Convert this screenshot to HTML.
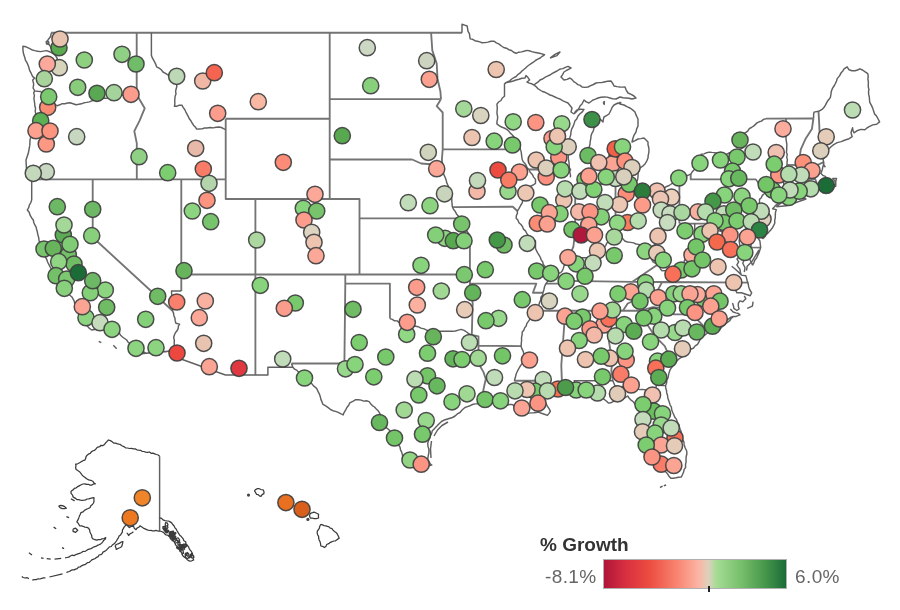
<!DOCTYPE html>
<html><head><meta charset="utf-8"><title>% Growth map</title>
<style>
html,body{margin:0;padding:0;background:#fff;}
body{width:900px;height:610px;overflow:hidden;position:relative;font-family:"Liberation Sans","DejaVu Sans",sans-serif;}
svg{position:absolute;left:0;top:0;filter:blur(0.45px);}
.legend-title{position:absolute;left:540px;top:534px;font-size:19px;line-height:22px;font-weight:bold;color:#333;white-space:nowrap;}
.lbl{position:absolute;top:566px;font-size:19px;line-height:22px;color:#666;letter-spacing:0.4px;white-space:nowrap;}
.bar{position:absolute;left:603px;top:559px;width:184px;height:30px;box-sizing:border-box;border:1px solid #b0b0b0;
background:linear-gradient(to right,#b0143a 0%,#d83040 12%,#ec4c40 25%,#f88470 40%,#fcb4a4 52%,#dcd0bc 57.4%,#a4dc94 62%,#78c06c 75%,#48984c 88%,#1c6c38 100%);}
.tick{position:absolute;left:708px;top:586px;width:2px;height:6px;background:#222;}
</style></head><body>
<svg width="900" height="610" viewBox="0 0 900 610">
<path d="M51.1,32.7 L462.0,32.7 M136.7,32.7 L136.7,88.9 L138.5,97.8 M30.3,179.4 L225.7,179.4 L225.7,199.0 L359.5,199.0 L359.5,218.3 L459.8,218.3 M92.7,179.4 L92.7,237.3 L172.5,310.7 M181.3,179.4 L181.3,290.9 M181.3,274.5 L469.9,274.5 M225.7,118.7 L225.7,179.4 M225.7,118.7 L329.7,118.7 M329.7,32.7 L329.7,199.0 M329.7,99.1 L441.0,99.1 M329.7,159.5 L412.2,159.5 M255.4,199.0 L255.4,375.0 M359.5,218.3 L359.5,274.5 M345.3,274.5 L345.3,283.6 L344.4,363.5 L291.5,363.5 M345.3,283.6 L389.9,283.6 L389.9,318.6 M469.9,235.4 L469.9,283.6 L472.7,303.5 L471.8,334.9 L478.5,336.4 L478.5,363.5 M469.9,283.6 L536.3,283.6 L532.9,292.7 L543.0,292.7 M478.5,345.7 L521.1,346.1 M452.8,207.1 L512.8,206.7 L517.4,211.0 M442.7,149.4 L520.4,149.4 M442.7,149.4 L442.7,112.5 L436.7,106.2 L441.0,99.1 M529.0,169.5 L571.2,169.5 M575.2,184.1 L575.2,230.6 L573.4,246.7 L567.8,259.7 M580.1,184.1 L615.5,184.1 L615.5,235.4 M615.5,185.3 L635.8,184.7 M679.4,179.4 L679.4,223.6 M679.4,223.6 L749.7,223.6 M690.7,174.1 L690.7,179.4 L756.1,179.4 M545.9,283.6 L567.5,283.6 L567.5,280.9 L632.4,281.8 L662.1,282.0 L748.5,282.7 M534.1,310.7 L641.0,310.7 M565.3,310.7 L561.3,365.2 L562.3,393.4 M603.9,310.7 L610.1,348.4 L612.8,358.3 L611.3,370.4 L612.8,380.7 M514.3,380.7 L542.5,380.7 L540.7,386.6 L545.5,394.6 M138.5,97.8 L144.7,108.3 L139.5,120.8 L134.3,131.1 L136.8,143.4 L136.8,179.4 M478.5,363.5 L483.5,372.1 L485.8,379.0 L483.5,389.2 L482.8,396.0 L481.3,402.8 M412.2,159.5 L421.1,163.5 L434.5,164.5 L442.7,169.5 L441.9,159.5 L442.7,149.4 M441.0,99.1 L440.4,91.5 L437.5,78.7 L436.7,63.6 L432.3,50.4 L431.1,32.7 M648.5,248.5 L648.5,252.3 L652.9,261.6 L657.8,264.5 L632.4,281.8 M765.9,192.0 L777.8,199.0 M749.7,223.6 L751.0,247.4 L760.7,247.6 M641.0,310.7 L644.0,319.6 L654.4,335.6 L664.8,346.1 L669.3,356.5 L674.2,362.8 M641.0,310.7 L652.9,307.1 L671.7,308.9 L673.7,314.3 L692.0,314.3 L708.8,331.2 M662.1,282.0 L657.4,290.9 L648.5,292.7 L639.6,298.1 L627.7,303.5 L622.9,310.7 M765.9,118.7 L813.4,118.5 M787.1,164.9 L816.4,165.5 L823.5,162.1 M783.7,178.6 L815.2,179.0 L819.1,189.2 M809.0,179.0 L808.1,192.7 M813.4,118.5 L811.9,129.1 L805.3,139.3 L800.8,149.4 L799.3,159.5 L799.2,164.9 M818.5,111.3 L819.1,121.9 L819.5,130.8 L820.7,143.6 L822.5,159.3" fill="none" stroke="#747474" stroke-width="1.85" stroke-linejoin="round"/>
<path d="M135.5,354.3 L171.2,351.0 L169.8,355.0 L225.4,375.0 M225.4,375.0 L267.9,375.0 L267.9,367.3 L292.9,367.3 M292.9,367.3 L291.5,363.5 M432.3,464.8 L428.9,465.8 L425.6,466.6 L423.0,465.4 L420.5,464.2 L417.9,463.3 L415.2,462.5 L412.7,461.8 L410.3,460.9 L408.0,459.7 L405.8,458.3 L403.3,457.6 L402.4,455.0 L401.8,452.3 L400.5,449.9 L400.0,447.2 L398.7,444.8 L398.6,441.9 L397.3,439.5 L396.0,437.3 L393.7,436.0 L392.3,433.8 L390.6,431.9 L389.0,429.8 L387.0,428.2 L385.5,426.2 L384.4,424.0 L383.3,421.9 L382.6,419.5 L381.4,417.4 L380.6,415.0 L379.5,412.8 L378.1,410.7 L376.3,408.9 L374.5,407.0 L372.3,405.6 L370.6,403.7 L369.1,401.6 L366.5,400.8 L363.7,401.1 L361.1,400.1 L358.5,399.8 L355.7,399.7 L352.8,401.3 L349.8,402.8 L348.7,405.3 L346.9,407.5 L345.7,409.9 L344.2,412.3 L343.1,414.9 L340.6,413.7 L338.2,412.4 L335.6,411.4 L332.9,410.7 L330.5,409.5 L328.2,407.6 L325.7,405.9 L323.0,404.4 L322.0,401.9 L320.9,399.4 L320.3,396.7 L319.4,394.1 L318.1,391.7 L317.1,389.2 L315.5,387.3 L313.5,385.9 L312.0,383.9 L310.3,382.2 L308.5,380.6 L306.7,379.0 L304.8,377.2 L302.7,375.6 L300.7,374.1 L298.7,372.4 L297.0,370.4 L294.6,369.2 L292.9,367.3 M51.4,32.9 L50.4,36.8 L48.9,38.7 L47.5,40.7 L46.5,43.7 L49.4,44.7 L51.4,48.6 L52.6,51.7 L54.4,54.5 L56.0,56.4 L57.3,58.5 L55.4,62.4 M46.1,41.1 L48.5,41.5 L48.9,43.5 L46.5,43.9 L46.1,41.1 M54.4,54.5 L51.4,52.6 L49.0,51.5 L46.5,50.6 L43.5,51.1 L40.6,51.6 L37.6,51.3 L34.7,50.6 L31.6,49.7 L28.8,48.2 L26.0,46.8 L22.9,46.3 L22.9,49.4 L23.3,52.6 L23.9,55.1 L24.8,57.5 L25.4,60.1 L26.8,62.4 L27.9,64.8 L28.8,67.3 L29.6,70.4 L31.1,73.2 L32.7,76.6 L34.7,78.1 L32.7,80.1 L33.7,84.1 L33.1,88.0 L34.7,90.9 L33.7,92.9 L34.4,95.6 L33.9,98.4 L34.3,101.0 L34.7,103.7 L34.9,106.2 L35.6,108.6 L35.2,111.1 L35.7,113.6 L35.5,116.2 L34.9,118.8 L34.7,121.5 L33.8,124.4 L32.7,127.4 L32.3,130.1 L31.6,132.7 L30.7,135.2 L30.6,137.7 L30.0,140.1 L29.9,142.6 L29.8,145.1 M29.8,145.1 L28.3,153.3 L26.0,160.0 L26.7,173.3 L31.7,179.0 L31.7,200.0 M31.7,200.0 L30.8,202.6 L29.4,205.0 L28.7,207.6 L27.3,210.0 L29.2,212.3 L30.1,215.2 L31.5,217.7 L33.3,220.0 L33.8,222.5 L34.7,224.7 L36.0,226.9 L36.6,229.3 L37.3,231.7 L37.8,234.6 L38.7,237.5 L39.0,240.5 L40.0,243.3 L41.3,245.9 L42.4,248.5 L42.7,251.5 L44.3,253.9 L45.0,256.7 L46.6,259.0 L47.5,261.7 L48.7,264.2 L50.0,266.7 L51.4,269.0 L52.2,271.5 L53.8,273.7 L54.9,276.1 L56.2,278.5 L57.1,281.0 L58.3,283.3 L60.2,285.3 L62.2,287.1 L63.9,289.2 L65.7,291.2 L67.8,292.9 L69.5,295.0 L71.7,296.7 L73.0,298.8 L74.2,301.0 L74.7,303.5 L75.9,305.7 L76.8,308.0 L78.3,310.0 L79.6,312.6 L80.0,315.5 L80.9,318.2 L82.5,320.6 L83.3,323.3 L85.7,324.7 L87.7,326.4 L89.5,328.4 L91.7,330.0 L94.6,329.5 L97.5,329.0 L100.4,328.8 L103.3,328.3 L106.2,328.9 L109.2,328.8 L112.1,329.7 L115.0,330.0 L117.0,331.6 L119.1,333.0 L120.6,335.2 L122.5,337.0 L124.6,338.5 L126.7,340.0 L128.1,342.2 L130.3,343.9 L131.9,346.1 L133.3,348.3 L136.1,349.1 L138.8,350.0 L141.4,351.3 L144.1,352.1 L146.7,353.3 L149.1,352.8 L151.6,352.6 L154.2,352.9 L156.7,352.6 L159.2,352.5 L161.7,352.1 L164.2,351.9 L166.7,351.7 M813.6,118.4 L813.6,115.2 L814.0,112.1 L818.5,111.3 L822.5,109.1 L824.1,107.3 L825.4,105.2 L827.4,101.3 L829.0,99.3 L830.4,97.3 L830.9,94.4 L831.3,91.4 L832.5,88.3 L834.3,85.5 L835.5,83.3 L836.5,81.0 L837.2,78.6 L839.5,75.9 L841.2,72.7 L842.8,70.9 L844.1,68.8 L847.1,66.8 L849.1,69.8 L851.9,70.7 L855.0,70.7 L857.5,70.0 L859.9,68.8 L862.5,70.0 L864.8,71.7 L867.8,73.7 L868.2,76.4 L867.9,79.1 L868.4,81.8 L868.3,84.5 L868.3,87.0 L868.9,89.4 L868.5,91.9 L868.7,94.4 L869.3,97.0 L869.5,99.6 L869.7,102.2 L871.3,105.1 L872.7,108.1 L873.6,111.1 L874.6,114.1 L876.4,115.8 L877.6,118.0 L879.6,121.9 L876.6,124.3 L872.7,124.9 L868.7,126.9 L866.7,128.2 L864.8,129.8 L860.9,129.4 L856.9,130.8 L854.0,132.8 L852.9,130.4 L852.6,127.8 L851.7,130.2 L851.0,132.8 L852.2,136.7 L849.1,138.7 L845.1,140.0 L841.2,141.6 L837.2,142.6 L833.7,144.6 L831.3,146.5 L828.4,149.5 L826.7,151.8 L825.4,154.4 L824.5,157.0 L823.1,159.3 L823.7,162.2 L823.9,165.2 L825.4,167.2 M823.5,162.1 L823.5,164.6 L822.8,167.0 L822.3,169.5 L820.9,173.5 L822.8,175.3 L825.3,176.4 L826.3,178.7 L826.7,181.1 L827.5,183.3 L830.2,183.9 L833.0,184.2 L835.7,184.3 L835.8,181.3 L836.5,178.4 L832.7,178.4 L835.0,181.4 L835.8,183.8 L835.7,186.3 L832.8,187.4 L829.8,187.7 L826.8,188.2 L824.2,188.7 L821.6,188.8 L819.1,189.2 L817.1,187.6 L814.9,186.3 L814.8,188.8 L814.2,191.2 L811.2,192.2 L808.1,192.7 L805.5,192.9 L802.9,193.3 L800.3,193.1 L797.8,193.8 L795.2,193.7 L792.6,194.1 L790.5,195.4 L788.1,195.9 L786.1,197.4 L783.8,198.2 L781.5,199.0 L779.7,200.9 L778.2,203.1 L776.3,204.8 M776.3,204.8 L774.5,206.8 L772.6,208.7 L776.3,209.6 L775.5,212.2 L775.3,214.9 L775.3,217.7 L774.7,220.3 L774.8,223.0 L773.6,225.7 L772.1,228.3 L770.3,230.6 L768.4,232.6 L766.4,234.4 L764.9,236.7 L762.9,238.6 L761.1,236.1 L758.7,234.1 L757.0,231.6 L755.1,229.7 L753.2,227.8 L754.5,230.6 L755.5,233.5 L756.8,236.1 L758.3,238.6 L759.9,241.0 L760.3,244.3 L760.7,247.6 L759.8,250.3 L758.9,252.9 L757.7,255.4 L756.6,258.0 L754.8,260.2 L753.8,262.8 L752.5,265.3 M759.0,250.0 L755.4,255.9 L751.7,261.8 L747.2,266.2 L746.5,270.7 M731.7,266.2 L735.4,269.2 L738.4,272.1 L741.3,275.1 L740.4,272.2 L739.9,269.2 L738.3,267.1 L736.9,264.8 L738.7,261.8 L736.9,258.9 L739.9,255.9 L738.7,252.2 M744.3,258.9 L742.8,263.3 L745.0,267.7 L744.3,272.1 M741.3,275.1 L745.8,275.8 L746.6,278.4 L747.2,281.0 L748.2,283.9 L748.7,286.9 L749.9,290.0 L751.7,292.8 L750.2,295.8 L745.8,294.3 L741.3,292.8 L736.9,292.8 L735.4,289.9 M744.3,295.8 L745.8,298.7 L742.8,301.7 L739.9,300.9 L738.4,303.1 L738.3,306.1 L739.1,309.0 L736.9,310.5 L733.9,308.3 L733.4,305.7 L732.5,303.1 M730.3,309.0 L733.2,312.0 L735.8,312.9 L738.4,313.5 L739.9,314.9 L736.2,316.4 L733.5,316.4 L731.0,317.2 L728.0,319.4 L725.6,321.4 L723.6,323.8 M753.1,301.7 L752.4,306.1 L747.2,308.3 M733.2,317.0 L731.1,318.3 L729.8,320.6 L727.7,322.1 L725.8,323.7 L724.1,325.5 L722.0,326.9 L720.4,328.9 L718.3,330.3 L715.2,331.0 L712.0,331.2 L708.8,331.2 L706.8,333.5 L704.4,335.5 L702.0,337.3 L700.2,339.5 L698.9,342.0 L697.5,344.3 L695.2,345.9 L693.3,348.2 L690.6,349.2 L688.6,351.3 L686.4,353.1 L684.3,355.0 L682.1,356.8 L679.7,358.3 L677.1,360.8 L674.2,362.8 L672.9,365.1 L671.7,367.4 L670.2,369.6 L669.3,372.1 L668.5,374.8 L668.1,377.6 L666.8,380.1 L666.6,383.0 L665.6,385.6 L665.7,388.1 L666.5,390.4 L666.7,392.9 L667.5,395.2 L667.8,397.7 L668.5,400.1 L669.4,402.5 L670.1,405.0 L671.4,407.2 L671.7,409.8 L672.6,412.2 L673.7,414.5 L674.8,417.2 L676.5,419.4 L677.4,422.2 L678.9,424.6 L679.4,427.1 L680.2,429.5 L681.2,431.9 L682.0,434.4 L682.2,437.0 L682.7,439.5 L683.9,441.8 L684.1,444.4 L685.1,447.8 L686.7,451.0 L686.9,453.8 L686.2,456.5 L686.0,459.2 L686.1,461.9 L685.5,464.6 L685.6,467.4 L684.1,469.6 L683.5,472.3 L682.4,474.7 L681.2,477.1 L678.6,477.3 L676.0,477.8 L673.4,478.2 L670.8,478.3 L669.0,476.2 L667.5,473.8 L665.6,471.8 L664.1,469.5 L662.6,467.2 L661.1,464.9 L659.9,462.2 L658.6,459.6 L657.4,456.9 L655.9,454.3 L654.8,452.0 L653.2,450.0 L652.0,447.6 L651.1,445.2 L649.5,443.2 L648.8,440.6 L647.5,438.4 L646.2,436.2 L646.8,433.3 L647.1,430.4 L647.4,427.5 L647.7,424.6 L647.1,421.6 L646.3,418.8 L645.8,415.8 L645.5,412.8 L643.2,411.2 L641.2,409.3 L638.7,408.0 L636.6,406.1 L635.0,404.0 L633.3,401.8 L631.1,400.1 L629.2,398.3 L627.7,396.0 L625.1,397.7 L622.5,399.4 L620.0,399.7 L617.8,400.7 L615.3,400.9 L613.0,401.6 L610.8,402.8 L608.4,403.1 L606.6,401.3 L604.7,399.7 L602.8,398.1 L601.2,396.1 L599.4,394.3 L596.5,393.2 L593.5,392.2 L590.5,391.2 L588.0,391.0 L585.6,391.9 L583.1,391.6 L580.7,392.5 L578.2,392.8 L575.7,392.6 L573.2,392.9 L570.7,392.9 L568.2,393.4 L567.7,390.4 L566.7,387.5 L564.2,389.3 L562.3,391.7 L559.3,391.3 L556.4,391.3 L553.4,391.2 L550.7,392.3 L548.1,393.3 L545.5,394.6 L543.5,396.2 L541.5,397.7 L542.7,400.0 L544.2,402.1 L546.2,403.8 L547.4,406.1 L549.0,408.6 L550.4,411.2 L549.1,413.4 L547.4,415.4 L544.4,414.3 L541.4,413.3 L538.5,412.0 L536.2,412.5 L533.8,412.8 L531.4,412.9 L529.0,413.1 L526.6,413.7 L524.2,412.1 L521.6,411.0 L519.2,409.5 L516.8,407.7 L514.4,405.9 L511.8,404.4 L509.3,404.5 L506.8,405.3 L504.3,405.3 L501.6,404.6 L499.1,403.5 L496.3,403.3 L493.6,402.5 L491.0,401.6 L488.5,401.6 L486.1,402.2 L483.7,402.2 L481.3,402.8 M490.0,400.0 L487.5,400.8 L485.0,401.5 L482.5,402.5 L480.1,403.4 L477.6,403.8 L475.0,403.9 L472.5,404.5 L470.1,405.7 L467.5,406.6 L465.0,407.5 L462.3,409.8 L460.0,412.5 L457.3,413.9 L455.1,416.0 L452.5,417.5 L449.2,418.5 L446.0,419.5 L443.6,420.3 L441.5,421.5 L439.1,423.7 L436.9,426.1 L434.6,428.4 L432.3,430.7 L431.6,433.7 L430.0,436.4 L429.5,438.8 L428.4,441.0 L427.7,443.3 L428.0,446.4 L428.9,449.4 L428.9,452.5 L428.2,455.9 L427.7,459.4 L429.4,462.3 L431.2,465.1 M448.0,422.0 L442.0,425.5 L437.5,430.0 L434.0,436.0 M431.5,441.0 L430.5,449.0 L431.0,458.0 M776.3,206.7 L786.7,205.8 L806.0,199.0 L801.5,197.0 L783.7,200.9 L776.3,206.7 M752.5,265.3 L751.6,262.8 L750.2,260.4 L749.5,257.8 L747.8,255.6 L746.4,253.3 L745.0,250.9 L743.6,248.5 L743.6,237.3 L744.7,235.0 L744.9,232.5 L745.4,230.0 L746.6,227.8 L744.6,229.7 L742.5,231.5 L740.6,233.5 L740.3,236.0 L739.6,238.5 L739.1,241.0 L739.7,244.1 L740.0,247.3 L740.6,250.4 L741.0,253.7 L742.1,256.9 M765.9,118.7 L763.5,119.4 L761.5,121.1 L759.2,121.8 L757.0,122.9 L755.2,124.6 L753.5,126.2 L751.4,127.5 L749.3,128.7 L747.9,130.9 L746.0,132.4 L743.8,133.5 L742.1,135.2 L742.3,137.7 L742.9,140.1 L743.0,142.5 L743.4,145.0 L743.6,147.4 L741.2,148.7 L739.1,150.5 L736.7,151.4 L734.1,151.7 L731.7,152.5 L729.1,152.8 L726.9,154.2 L724.3,154.5 L721.8,154.0 L719.3,154.0 L716.9,153.2 L714.4,152.6 L711.9,152.4 L709.4,152.1 L706.7,152.7 L704.0,153.9 L701.2,154.3 L701.9,156.7 L702.0,159.1 L702.0,161.5 L700.5,163.4 L698.5,164.9 L697.2,167.0 L695.6,168.8 L693.7,170.3 L692.1,172.1 L690.7,174.1 L688.4,175.1 L686.0,176.1 L683.9,177.6 L681.8,178.9 L679.4,179.8 L677.0,180.6 L675.1,182.3 L672.6,183.0 L670.6,184.5 L668.5,185.8 L666.1,186.7 L664.1,188.1 L661.9,189.2 L647.0,189.2 L644.7,188.6 L642.6,187.2 L640.2,186.8 L637.9,185.9 L635.8,184.7 M462.0,32.7 L462.0,24.2 L464.6,25.1 L467.2,26.0 L467.6,28.6 L468.0,31.3 L469.4,33.7 L469.8,36.3 L470.2,38.9 L472.7,39.3 L474.8,40.7 L477.3,41.2 L479.7,41.9 L482.0,42.7 L485.1,42.6 L488.0,42.1 L490.9,41.2 L493.9,41.2 L496.4,42.8 L499.1,44.1 L501.4,46.0 L503.7,47.5 L506.4,48.2 L508.8,49.7 L511.5,50.5 L513.6,52.3 L516.2,53.3 L518.7,52.2 L521.4,51.9 L524.0,51.2 L526.6,50.4 L529.3,50.7 L531.7,51.6 L534.3,52.2 L536.9,52.7 L539.4,53.2 L542.0,53.9 L544.5,54.8 L542.2,56.3 L540.2,58.0 L537.8,59.2 L535.4,60.5 L533.4,62.2 L531.1,63.6 L529.1,65.0 L527.1,66.5 L525.3,68.2 L523.5,69.8 L521.5,71.4 L519.9,73.2 L517.8,74.6 L516.2,76.5 L513.9,77.7 L511.7,79.0 L509.7,80.8 L507.3,81.9 M505.0,83.0 L507.7,82.2 L510.6,81.7 L513.3,81.0 L516.0,80.0 L519.0,79.3 L521.9,78.3 L525.0,78.0 L526.0,75.6 L528.0,77.6 L529.6,80.0 L527.0,82.0 L529.3,83.1 L531.8,83.8 L534.0,85.0 M534.0,85.0 L536.0,83.3 L538.2,81.9 L540.0,80.0 L542.6,79.0 L544.9,77.3 L547.4,76.1 L550.0,75.0 L552.4,73.3 L555.0,72.0 L557.6,70.6 L560.0,69.0 L562.8,68.6 L565.4,67.4 L568.0,66.4 L571.0,68.0 L568.6,69.3 L566.3,70.5 L564.0,72.0 L562.6,74.6 L561.0,77.0 L564.0,80.0 L567.1,79.4 L570.0,78.0 L572.1,79.6 L573.7,81.6 L576.0,83.0 L577.8,84.6 L580.2,85.4 L582.0,87.0 L585.0,87.4 L588.0,87.0 L590.7,85.7 L593.4,84.5 L596.0,83.0 L598.7,82.6 L601.4,82.6 L604.0,82.0 L607.5,81.2 L611.0,81.0 L612.7,83.4 L614.0,86.0 L617.0,86.6 L620.0,87.0 L622.5,87.1 L625.0,87.0 L626.2,90.1 L628.0,93.0 L631.1,94.4 L634.0,96.0 L636.0,98.0 L632.0,99.0 L629.0,98.3 L626.0,98.0 L623.0,97.7 L620.0,97.0 L616.0,99.0 L612.9,98.9 L610.0,98.0 L607.1,97.1 L604.0,97.0 L601.0,97.3 L598.0,98.0 L595.5,99.1 L593.0,100.0 L591.0,101.5 L589.0,103.0 L586.3,101.9 L584.0,100.0 L582.0,104.0 L580.2,105.8 L579.0,108.0 L577.7,110.2 L576.0,112.0 L574.0,114.0 M574.0,114.0 L575.2,111.8 L577.0,110.0 L580.5,109.3 L584.0,109.4 L582.3,111.9 L580.0,113.8 L578.0,116.0 L576.9,118.8 L574.9,121.1 L574.0,124.0 L573.0,126.7 L571.6,129.2 L571.0,132.0 L570.7,134.8 L569.9,137.4 L569.0,140.0 L568.4,142.5 L568.4,145.0 L568.0,147.5 L568.0,150.0 L568.4,152.4 L568.2,154.8 L568.3,157.2 L568.4,159.6 L569.0,162.0 L569.1,164.7 L569.4,167.4 L570.0,170.0 L569.8,172.5 L570.5,174.9 L570.4,177.4 M592.0,170.0 L591.2,167.7 L590.9,165.2 L590.7,162.8 L590.6,160.4 L590.0,158.0 L590.0,155.3 L589.0,152.7 L589.0,150.0 L589.3,147.0 L590.0,144.0 L590.2,141.3 L590.8,138.7 L591.0,136.0 L591.9,133.3 L593.3,130.8 L594.0,128.0 L595.2,125.6 L596.7,123.3 L598.2,121.0 L600.0,119.0 L603.0,122.0 L603.3,119.5 L604.0,117.0 L606.5,115.6 L609.0,114.0 L611.0,110.0 L612.2,107.3 L614.0,105.0 L618.0,103.0 L620.9,104.3 L624.0,105.0 L626.9,106.7 L630.0,108.0 L632.6,109.9 L635.0,112.0 L635.8,114.4 L636.9,116.7 L638.0,119.0 L638.0,126.0 L636.7,128.9 L636.0,132.0 L634.2,134.8 L633.0,138.0 L632.0,142.0 L635.1,140.6 L638.0,139.0 L641.0,138.6 L644.0,138.0 L646.0,140.0 L648.0,142.0 L648.0,144.7 L648.7,147.3 L649.0,150.0 L648.8,152.7 L648.2,155.3 L648.0,158.0 L646.7,161.1 L645.0,164.0 L642.7,166.2 L640.0,168.0 L638.8,170.4 L638.0,173.0 L638.1,175.7 L637.8,178.4 L637.2,181.0 M550.0,58.0 L555.0,54.4 L560.0,52.0 L557.0,55.6 L550.0,58.0 M603.2,102.4 L604.4,101.6 L604.2,104.4 L603.2,102.4 M619.2,102.4 L620.8,102.4 L620.0,103.6 L619.2,102.4 M159.6,531.0 L159.6,456.2 M660.0,487.5 L662.6,486.1 M663.8,485.7 L666.1,485.0 M98.7,341.3 L101.3,342.7 M113.3,345.3 L116.7,348.7 M575.7,392.6 L575.5,390.2 L574.9,387.8 L574.4,385.5 L574.6,383.0 L574.2,380.7 L612.8,380.7 L613.9,383.2 L614.9,385.8 L617.4,386.0 L619.8,386.7 L622.3,386.6 L624.8,387.4 L627.3,387.5 L629.7,387.9 L632.2,387.9 L634.6,388.9 L637.2,388.9 L639.6,389.6 L642.1,389.4 L644.6,389.8 L647.0,390.3 L649.4,391.2 L652.0,391.0 L654.4,391.6 L655.6,388.3 L656.7,384.9 L659.6,385.3 L662.6,385.6 L665.6,385.6 M151.4,32.7 L151.4,55.3 L152.2,57.7 L153.5,59.9 L154.7,62.1 L155.8,64.4 L156.6,66.8 L159.1,68.1 L161.3,69.8 L163.0,72.0 L165.5,73.4 L167.8,74.8 L170.0,76.5 L171.4,78.6 L173.5,80.2 L175.0,82.2 L176.7,84.0 L176.8,86.5 L176.1,89.0 L175.6,91.4 L176.0,93.9 L175.1,96.3 L174.9,98.8 L174.7,101.3 L174.9,103.8 L174.4,106.2 L177.0,106.2 L179.3,105.2 L181.9,105.2 L183.1,107.4 L184.7,109.5 L185.8,111.8 L187.0,114.1 L188.2,116.4 L189.3,118.7 L190.9,120.8 L192.1,123.0 L193.5,125.2 L195.3,127.0 L196.7,129.1 L199.4,129.0 L202.0,128.9 L204.5,128.0 L207.1,128.0 L210.1,127.5 L213.1,127.9 L216.1,127.3 L219.0,127.0 L221.4,127.5 L223.5,128.7 L225.7,129.7 M181.3,290.9 L171.5,290.9 L171.6,293.6 L172.1,296.3 L172.3,299.1 L173.0,301.7 L172.6,304.7 L173.1,307.7 L172.5,310.7 L173.5,313.1 L173.9,315.7 L174.9,318.1 L175.2,320.7 L175.9,323.2 L179.6,324.1 L178.4,326.2 L178.1,328.7 L177.0,330.8 L175.4,332.8 L174.4,335.0 L173.7,337.3 L174.3,340.2 L174.2,343.2 L174.4,346.1 L172.4,348.3 L171.2,351.0 M389.9,318.6 L392.3,319.4 L394.5,320.8 L397.2,320.9 L399.3,322.7 L401.8,323.2 L404.7,324.2 L407.7,325.3 L410.7,325.9 L413.2,326.1 L415.7,326.3 L418.1,326.7 L421.0,328.1 L424.2,328.9 L427.1,330.3 L430.1,331.4 L433.0,332.9 L435.5,332.3 L437.9,331.6 L440.4,331.2 L452.3,331.2 L455.4,331.0 L458.3,330.1 L461.2,329.4 L464.1,330.4 L466.6,332.0 L469.0,333.9 L471.8,334.9 M442.7,169.5 L443.2,172.5 L444.2,175.4 L445.3,177.8 L446.2,180.3 L446.8,182.9 L447.9,185.3 L449.0,187.9 L449.8,190.5 L450.8,193.1 L451.5,195.8 L451.8,198.5 L451.8,201.3 L452.1,204.0 L452.3,206.7 L453.5,209.2 L455.2,211.4 L456.5,213.9 L458.3,215.9 L459.8,218.3 L462.7,220.2 L463.6,222.5 L463.8,225.1 L465.4,227.2 L465.7,229.7 L467.9,232.5 L469.9,235.4 M507.3,81.9 L504.5,83.8 L504.5,96.3 L502.3,98.0 L501.0,100.5 L498.6,102.0 L496.9,104.1 L497.2,106.6 L497.3,109.0 L497.0,111.5 L497.0,113.9 L497.6,116.3 L497.6,118.7 L497.0,121.3 L496.9,123.9 L499.1,125.6 L501.5,127.0 L504.2,128.0 L506.6,129.3 L508.8,131.1 L510.3,133.1 L512.1,134.7 L513.7,136.5 L515.5,138.2 L517.2,139.9 L519.2,141.3 L520.0,144.0 L519.9,146.8 L520.4,149.4 L521.2,151.9 L521.5,154.4 L521.8,157.0 L522.2,159.5 L523.2,161.7 L524.9,163.5 L526.2,165.5 L527.2,167.7 L528.9,169.5 L530.2,172.2 L532.3,174.4 L533.6,177.1 L535.5,179.4 L535.5,183.3 L533.2,185.0 L530.6,186.2 L528.5,188.2 L525.9,189.4 L523.7,191.2 L523.3,194.1 L523.1,197.0 L522.8,200.0 L522.2,202.9 L520.6,205.5 L519.1,208.3 L517.4,211.0 L517.4,213.4 L516.3,215.8 L516.2,218.3 L518.0,220.2 L518.9,222.7 L521.0,224.5 L522.5,226.6 L523.4,229.1 L525.5,230.9 L526.6,233.2 L528.1,235.4 L530.4,237.5 L533.0,239.2 L535.5,241.0 L535.5,248.5 L536.6,250.9 L537.8,253.1 L539.2,255.3 L540.4,257.5 L541.2,259.9 L542.7,262.0 L543.3,264.6 L545.1,266.5 L545.9,269.0 L547.5,271.1 L549.6,272.7 L551.4,274.5 L550.2,276.8 L548.4,278.9 L547.6,281.5 L545.9,283.6 L544.6,286.5 L543.9,289.7 L543.0,292.7 L542.5,295.2 L540.9,297.2 L540.8,299.8 L539.7,302.0 L539.0,304.4 L538.1,306.7 L537.0,308.9 L535.4,311.0 L534.3,313.4 L532.4,315.2 L531.2,317.6 L529.6,319.6 L528.2,321.6 L526.8,323.6 L526.2,326.0 L524.6,327.9 L523.8,330.2 L522.2,332.0 L522.1,334.9 L521.5,337.6 L521.6,340.5 L521.3,343.3 L521.1,346.1 L521.8,348.6 L523.0,350.9 L523.7,353.3 L524.8,355.7 L525.1,358.3 L523.5,360.3 L522.8,362.9 L521.1,364.8 L519.7,367.0 L518.5,369.2 L517.3,371.5 L516.2,373.8 L515.4,377.3 L514.3,380.7 M551.4,274.5 L554.5,273.8 L557.7,273.5 L560.8,272.6 L562.3,270.7 L563.3,268.5 L563.9,266.1 L565.2,264.0 L566.7,262.0 L567.5,259.7 L570.2,259.0 L572.9,258.2 L575.7,257.8 L586.1,257.8 L588.5,257.7 L590.8,257.2 L593.3,257.1 L595.6,256.4 L598.0,256.0 L600.4,253.3 L602.4,250.4 L603.8,247.9 L605.7,245.6 L606.9,242.9 L609.0,240.9 L611.4,239.2 L613.3,236.9 L615.8,235.4 L620.2,235.4 L621.7,237.3 L623.2,239.1 L624.7,241.0 L627.6,242.0 L630.6,242.4 L633.6,242.9 L636.0,244.0 L638.7,244.4 L641.1,245.5 L643.4,246.9 L646.0,247.6 L648.5,248.5 L651.4,246.6 L654.4,244.8 L656.6,242.4 L658.3,239.7 L660.4,237.3 L661.6,234.6 L663.4,232.2 L664.8,229.7 L667.3,228.3 L669.8,227.0 L672.1,225.5 L674.5,224.0 L675.2,221.3 L676.2,218.7 L676.4,215.9 L677.3,213.2 L678.2,210.6 L679.4,205.9 M657.8,264.5 L659.6,266.4 L660.4,268.9 L662.1,270.8 L665.5,270.6 L668.8,269.9 L671.2,269.3 L673.4,268.2 L675.9,268.0 L678.0,266.7 L680.4,266.3 L682.7,265.3 L683.7,262.9 L684.5,260.4 L685.7,258.2 L687.1,256.0 L687.9,253.6 L689.2,251.5 L690.6,249.4 L690.9,246.8 L692.3,244.8 L695.7,245.5 L699.0,246.7 L700.4,244.6 L702.1,242.7 L703.9,241.0 L705.5,238.8 L707.1,236.6 L708.7,234.3 L710.1,232.0 L711.6,229.7 L714.8,230.2 L717.9,230.6 L721.0,231.2 M694.7,223.6 L694.7,233.5 L696.9,231.8 L699.3,230.2 L701.2,228.2 L704.9,225.9 L707.9,225.9 L710.9,225.5 L713.9,224.0 L716.8,225.1 L719.8,225.9 L720.8,228.4 L721.0,231.2 L724.3,233.5 L726.4,234.9 L728.1,236.8 L729.9,238.6 L729.8,241.1 L729.3,243.6 L728.5,246.0 L728.0,248.5 L730.5,250.0 L733.2,251.3 M756.1,179.4 L757.5,182.0 L759.0,184.6 L760.4,187.3 L762.0,189.1 L764.2,190.2 L765.9,192.0 L764.2,193.7 L762.4,195.4 L761.3,197.7 L759.5,199.4 L759.5,201.9 L759.0,204.3 L758.4,206.7 L760.2,208.5 L761.7,210.6 L763.8,212.2 L765.1,214.4 L763.1,216.4 L761.3,218.6 L759.2,220.5 L757.7,222.6 L755.6,224.0 L754.0,225.9 M785.9,118.5 L786.1,121.2 L785.6,123.8 L785.5,126.4 L785.2,129.1 L785.6,131.7 L786.0,134.3 L785.9,136.9 L786.1,139.6 L786.5,142.2 L786.9,144.8 L786.7,147.4 L786.7,149.9 L786.4,152.3 L787.3,154.7 L786.7,157.2 L787.4,159.6 L787.0,162.1 L787.1,164.5 L786.1,167.2 L785.8,170.1 L784.7,172.8 L784.3,175.6 L783.7,178.4 L783.7,193.1 L782.6,196.0 L781.5,199.0 M34.7,90.9 L37.6,91.3 L40.6,91.5 L42.6,93.2 L44.5,94.9 L46.3,96.9 L47.7,99.2 L48.7,101.7 L50.4,103.7 L54.0,104.3 L57.3,105.7 L59.8,104.8 L62.2,103.7 L64.9,103.7 L67.5,103.0 L70.1,102.8 L73.1,103.7 L76.0,104.7 L78.7,104.3 L81.4,103.8 L83.9,102.8 L86.6,102.4 L89.3,101.9 L91.8,100.8 L94.7,99.7 L97.7,98.8 L100.3,98.7 L102.9,98.2 L105.6,98.2 L108.7,98.0 L111.8,97.2 L115.0,97.0 L118.3,95.9 L121.7,95.0 L124.3,95.0 L126.9,95.8 L129.5,95.8 L132.1,95.3 L134.7,96.0 L137.3,96.0 M534.0,85.0 L536.0,86.6 L537.8,88.6 L540.0,90.0 L542.4,91.5 L545.1,92.3 L547.6,93.6 L550.0,95.0 L552.6,95.8 L555.0,97.0 L557.5,98.1 L560.0,99.0 L562.5,100.7 L565.3,101.8 L568.0,103.0 L570.0,105.5 L572.0,108.0 L571.0,112.0 L574.0,114.0" fill="none" stroke="#606060" stroke-width="1.45" stroke-linejoin="round"/>
<path d="M159.6,456.2 L158.2,455.0 L156.4,454.5 L154.7,453.8 L153.0,453.1 L151.1,453.3 L149.5,452.0 L147.5,452.3 L145.7,452.1 L143.9,451.5 L142.1,451.3 L140.5,450.3 L138.6,450.1 L136.9,449.8 L135.2,448.9 L133.4,448.9 L131.4,448.3 L129.4,448.5 L127.5,448.0 L125.5,447.8 L123.8,446.6 L121.9,445.7 L120.2,444.4 L118.6,444.2 L117.0,443.7 L115.4,443.1 L113.7,443.1 L112.2,441.7 L110.4,440.6 L108.4,440.0 L107.1,441.4 L105.7,442.8 L104.5,444.4 L103.0,445.6 L101.0,445.3 L99.7,446.7 L97.9,447.1 L96.6,448.1 L95.6,449.4 L94.3,450.4 L92.7,451.0 L91.3,451.9 L90.3,453.3 L88.7,453.9 L87.4,454.9 L86.1,456.5 L85.7,458.4 L84.8,460.2 L82.9,460.7 L81.2,461.8 L79.6,462.8 L77.7,463.8 L75.6,464.1 L76.0,465.9 L75.6,467.7 L76.1,469.4 L77.8,470.6 L79.5,471.7 L80.9,473.3 L82.0,474.8 L83.2,476.2 L84.8,477.2 L86.6,478.8 L88.7,479.9 L90.8,480.3 L92.7,481.2 L93.8,482.7 L95.3,483.8 L93.5,484.0 L91.9,485.1 L90.1,485.1 L88.4,484.3 L86.5,484.4 L84.8,483.8 L82.9,484.0 L81.2,484.8 L79.6,485.6 L77.8,486.6 L76.3,487.8 L74.3,488.3 L73.4,489.6 L72.0,490.5 L70.9,491.7 L71.2,493.6 L72.6,495.1 L73.0,496.9 L75.0,498.1 L76.9,499.6 L78.7,499.7 L80.4,500.2 L82.2,500.3 L83.9,500.2 L85.6,499.9 L87.1,499.0 L88.7,498.8 L90.5,498.3 L92.2,497.9 L94.0,497.7 L93.9,499.5 L94.0,501.3 L93.5,503.0 L92.4,504.5 L90.8,505.7 L90.1,507.4 L88.4,508.5 L86.5,509.2 L84.8,510.1 L83.1,511.8 L80.9,512.7 L80.2,514.4 L79.4,516.1 L78.8,517.9 L77.9,519.9 L76.9,521.9 L78.5,523.7 L79.6,525.8 L81.4,525.8 L83.1,526.3 L84.8,527.1 L86.9,527.3 L88.7,528.4 L89.7,530.1 L89.9,532.0 L90.8,533.7 L91.7,535.6 L91.9,537.6 L93.2,539.0 L94.9,539.6 L96.6,540.2 L98.3,539.6 L100.2,539.7 L101.9,538.9 L103.9,538.5 L105.8,537.6 L105.2,539.2 L103.8,540.2 L102.9,541.6 L101.9,542.9 L100.5,544.1 L98.9,544.8 L97.3,545.4 L95.8,546.4 L94.0,546.8 L92.5,547.7 L91.0,548.6 L89.2,549.1 L87.6,549.7 L86.1,550.7 L84.7,551.5 L82.9,551.4 L81.6,552.5 L80.2,553.2 L78.7,553.6 L77.2,554.2 L75.6,554.7 L74.0,555.6 L72.0,555.2 L70.3,556.0 L68.8,557.2 L66.9,557.5 L65.1,557.8 M61.2,558.3 L54.6,559.1 M50.7,559.1 L46.7,558.6 M43.6,558.3 L41.0,557.8 M159.6,531.0 L157.9,531.0 L156.1,530.4 L154.4,530.8 L152.6,530.8 L150.9,530.3 L149.1,530.5 L147.3,529.9 L145.6,529.1 L143.9,528.4 L141.9,527.1 L139.9,525.8 L138.8,527.3 L137.0,528.1 L136.0,529.7 L134.3,528.2 L133.4,526.1 L131.2,526.4 L129.4,527.6 L128.0,526.2 L126.8,524.5 L125.5,525.6 L124.2,526.9 L123.4,528.4 L122.4,530.1 L122.4,532.1 L121.3,533.7 L120.5,535.1 L119.1,536.1 L118.5,537.6 L117.6,538.9 L116.4,541.0 L115.0,542.9 L113.7,544.0 L112.3,545.0 L111.3,546.5 L109.4,546.9 L108.3,548.1 L107.1,549.4 L105.9,550.5 L104.5,551.4 L103.0,552.1 L102.2,553.8 L100.8,554.7 L99.0,555.0 L98.2,556.7 L96.6,557.3 L95.3,558.5 L93.6,559.2 L91.9,559.8 L90.6,561.1 L89.3,562.3 L87.4,562.6 L86.1,563.9 L84.7,564.7 L83.0,565.2 L81.5,565.8 L80.1,566.9 L78.4,567.2 L77.2,568.6 L75.6,569.1 L74.2,569.9 L72.4,569.9 L70.9,570.4 L69.5,571.5 L67.9,571.9 L66.4,572.5 M62.5,573.8 L49.4,577.0 M45.4,577.8 L43.6,577.9 L41.7,578.4 L39.9,579.0 L38.0,578.8 L36.2,579.6 L34.2,579.6 L32.3,580.1 M28.9,578.6 L27.1,577.7 L25.0,578.0 L23.1,577.5 L21.8,576.5 M126.8,532.9 L127.9,534.1 L128.6,535.5 L129.9,533.9 L131.7,533.0 L133.4,531.8 M115.0,545.5 L116.5,544.5 L118.1,543.8 L119.7,543.2 L121.2,542.1 L122.9,541.5 L122.6,543.3 L122.2,545.1 L121.5,546.8 L119.8,547.7 L118.0,548.5 L116.3,549.4 L115.8,547.4 L115.0,545.5 M159.6,517.9 L161.6,518.4 L163.0,519.9 L164.9,520.6 L166.6,520.9 L168.5,521.0 L170.1,521.9 L171.7,522.9 L172.7,524.5 L174.0,525.8 L174.8,527.6 L176.1,529.0 L177.0,530.7 L178.0,532.4 L178.9,533.8 L179.7,535.3 L181.1,536.3 L182.2,537.6 L183.2,538.9 L183.9,540.8 L185.7,541.8 L186.0,543.9 L187.4,545.3 L188.5,546.8 L189.2,548.6 L190.2,550.2 L191.5,551.7 L192.4,553.4 L192.8,555.0 L193.3,556.6 L193.0,558.4 L193.7,559.9 L191.8,560.8 L189.8,561.2 L188.4,560.4 L187.0,559.4 L185.9,558.2 L184.5,557.3 L183.0,556.0 L182.0,554.4 L181.7,552.4 L179.9,551.3 L179.3,549.4 L178.0,548.0 L177.1,546.4 L175.7,545.0 L174.9,543.2 L174.0,541.5 L172.4,540.6 L171.6,538.8 L170.4,537.3 L168.8,536.3 L167.6,535.1 L165.8,534.8 L164.6,533.7 L163.5,532.4 L161.6,531.5 L159.6,531.0 M58.6,506.1 L60.5,505.4 L62.5,505.6 L64.6,506.6 L66.4,508.2 L64.5,508.7 L62.5,508.7 L60.3,507.8 L58.6,506.1 M73.0,529.2 L75.6,528.2 L77.7,530.3 L75.6,532.4 L73.0,531.3 L73.0,529.2 M53.6,527.1 L56.2,528.7 M28.9,552.8 L32.0,554.9 M62.0,547.6 L64.1,548.6 M66.4,516.6 L69.1,517.7 M70.9,498.8 L74.6,500.9 M254.4,490.7 L255.7,489.6 L257.1,488.7 L258.8,488.5 L260.9,489.5 L263.2,489.9 L264.0,491.7 L263.9,493.6 L262.1,494.6 L261.0,496.3 L259.4,495.8 L258.2,494.6 L256.6,494.4 L255.5,492.5 L254.4,490.7 M309.7,514.3 L311.0,513.2 L312.6,512.7 L314.1,512.1 L315.6,512.8 L317.1,513.5 L318.6,514.3 L318.4,516.1 L318.6,518.0 L316.4,518.7 L314.1,518.7 L312.3,518.0 L310.4,518.0 L309.6,516.2 L309.7,514.3 M320.8,524.3 L322.5,524.9 L324.1,525.6 L325.9,525.8 L327.4,526.4 L329.0,526.8 L330.2,528.1 L331.8,528.3 L333.0,530.1 L334.5,531.5 L336.3,532.7 L337.5,534.4 L338.4,536.3 L339.2,538.2 L337.3,539.4 L335.5,540.8 L333.7,541.0 L332.1,541.7 L330.4,542.3 L328.7,543.7 L326.7,544.5 L326.0,546.3 L324.5,547.5 L322.7,546.4 L320.8,546.0 L320.6,543.8 L320.0,541.6 L319.1,540.0 L318.7,538.2 L318.6,536.4 L317.6,534.7 L317.1,532.7 L317.4,531.0 L318.4,529.7 L319.3,528.3 L319.8,526.2 L320.8,524.3 M177.0,542.5 L175.2,543.3 L174.7,542.0 L175.7,540.6 L177.0,540.1 L178.6,541.0 L177.0,542.5 M165.9,530.1 L164.7,531.0 L164.2,530.3 L164.8,529.1 L165.8,528.6 L166.8,528.9 L165.9,530.1 M171.6,534.6 L169.3,536.0 L169.3,534.9 L170.2,533.1 L172.1,532.1 L172.8,532.6 L171.6,534.6 M166.0,530.3 L165.1,530.7 L163.5,529.4 L163.7,528.2 L165.1,528.0 L166.1,529.1 L166.0,530.3 M193.9,558.0 L191.6,557.8 L190.8,556.2 L190.6,554.4 L192.3,554.8 L193.7,555.9 L193.9,558.0 M174.1,540.1 L172.0,540.7 L171.9,539.0 L172.8,537.5 L175.3,537.4 L175.7,538.9 L174.1,540.1 M167.4,525.9 L165.5,525.6 L165.2,524.1 L165.6,522.6 L167.1,522.9 L168.0,524.7 L167.4,525.9 M174.7,538.5 L173.2,539.8 L172.0,538.8 L173.0,537.1 L174.8,535.7 L175.8,536.4 L174.7,538.5 M179.5,541.7 L177.9,541.3 L176.3,539.4 L176.8,538.0 L178.1,537.9 L179.6,539.8 L179.5,541.7 M181.6,547.5 L180.1,547.1 L179.0,545.6 L179.5,544.4 L181.0,544.6 L181.6,545.7 L181.6,547.5 M184.6,549.5 L183.2,549.8 L181.2,548.8 L181.3,547.2 L183.1,546.7 L184.5,547.9 L184.6,549.5 M188.6,555.5 L187.0,555.8 L186.6,554.6 L186.9,553.5 L188.2,553.4 L188.9,554.2 L188.6,555.5 M191.6,556.0 L189.6,557.9 L189.5,556.8 L190.3,555.0 L191.7,553.5 L192.2,554.2 L191.6,556.0 M183.5,548.4 L181.1,549.0 L179.8,547.5 L180.4,545.7 L182.3,544.6 L184.2,546.0 L183.5,548.4 M188.3,558.4 L186.7,558.3 L185.3,556.9 L185.6,555.2 L187.1,555.6 L188.6,556.9 L188.3,558.4 M172.1,535.4 L170.3,535.6 L169.2,533.7 L170.1,531.7 L171.8,532.1 L173.0,534.1 L172.1,535.4 M174.7,534.8 L172.9,535.2 L172.6,534.0 L173.7,533.1 L175.6,532.5 L175.9,533.4 L174.7,534.8 M172.7,538.7 L171.1,537.8 L169.9,536.0 L170.5,534.4 L172.0,534.7 L173.2,536.6 L172.7,538.7 M181.3,548.9 L178.8,549.3 L177.7,548.3 L180.2,546.6 L183.0,546.2 L183.0,547.7 L181.3,548.9 M168.0,532.4 L166.5,532.9 L166.1,531.9 L166.7,530.6 L168.3,530.4 L168.8,531.5 L168.0,532.4 M182.9,548.7 L180.8,549.7 L179.0,549.1 L180.4,546.5 L182.0,545.4 L183.8,546.0 L182.9,548.7 M186.9,554.4 L185.2,555.2 L185.1,553.9 L186.0,553.0 L187.7,552.5 L187.7,553.5 L186.9,554.4 M179.8,544.0 L178.8,544.3 L177.7,544.1 L178.2,542.6 L179.4,542.0 L180.1,542.7 L179.8,544.0 M185.6,547.3 L184.0,548.0 L182.3,547.4 L183.7,545.3 L185.8,544.5 L186.9,545.6 L185.6,547.3 M174.0,535.8 L171.3,536.6 L170.1,534.7 L171.1,532.5 L173.6,531.9 L174.5,533.2 L174.0,535.8 M172.7,533.9 L170.6,534.7 L169.6,533.6 L171.0,531.6 L173.3,531.0 L173.8,532.2 L172.7,533.9 M173.6,537.8 L171.3,538.0 L170.1,535.6 L170.6,534.0 L173.2,533.7 L173.9,535.3 L173.6,537.8 M179.2,548.0 L177.4,548.7 L176.5,547.6 L177.8,546.0 L179.2,545.7 L180.5,546.3 L179.2,548.0 M183.2,553.8 L182.1,553.4 L180.8,551.4 L181.3,549.7 L182.8,550.1 L183.5,552.6 L183.2,553.8 M167.4,532.0 L165.8,532.5 L165.2,531.7 L166.2,530.2 L167.8,530.0 L168.7,530.5 L167.4,532.0 M173.3,538.7 L170.8,539.1 L169.9,537.7 L171.7,536.2 L173.4,535.6 L174.0,537.1 L173.3,538.7 M167.4,528.5 L165.7,529.2 L165.1,527.6 L165.2,525.8 L166.9,525.8 L168.0,527.1 L167.4,528.5 M184.7,546.9 L182.0,547.1 L182.3,545.6 L183.4,544.0 L185.5,543.9 L186.0,545.7 L184.7,546.9 M165.9,529.1 L164.6,529.4 L162.9,528.5 L162.9,526.6 L164.6,526.3 L166.2,527.7 L165.9,529.1" fill="none" stroke="#3a3a3a" stroke-width="1.25" stroke-linejoin="round"/>
<circle cx="248.5" cy="495.1" r="1.6" fill="#444"/><circle cx="307.9" cy="519.4" r="1.6" fill="#444"/>
<g stroke="#404040" stroke-opacity="0.92" stroke-width="1.5">
<circle cx="59.0" cy="47.7" r="8.1" fill="#5aaa50"/>
<circle cx="60.0" cy="39.0" r="8.1" fill="#e8c4b0"/>
<circle cx="59.3" cy="67.7" r="8.1" fill="#d8d4bc"/>
<circle cx="47.3" cy="64.0" r="8.1" fill="#fca89a"/>
<circle cx="84.3" cy="60.0" r="8.1" fill="#8fd080"/>
<circle cx="122.0" cy="54.3" r="8.1" fill="#90d084"/>
<circle cx="136.0" cy="64.0" r="8.1" fill="#70bc68"/>
<circle cx="44.3" cy="78.7" r="8.1" fill="#a8d49c"/>
<circle cx="77.7" cy="87.3" r="8.1" fill="#88cc7c"/>
<circle cx="47.7" cy="107.3" r="8.1" fill="#fb8c74"/>
<circle cx="48.7" cy="96.7" r="8.1" fill="#7cc870"/>
<circle cx="97.0" cy="93.3" r="8.1" fill="#5aa854"/>
<circle cx="114.0" cy="92.7" r="8.1" fill="#a4d49c"/>
<circle cx="131.0" cy="94.3" r="8.1" fill="#fc9c8c"/>
<circle cx="40.7" cy="120.7" r="8.1" fill="#5cb054"/>
<circle cx="46.3" cy="144.0" r="8.1" fill="#fc9884"/>
<circle cx="36.0" cy="130.7" r="8.1" fill="#fca090"/>
<circle cx="50.0" cy="131.0" r="8.1" fill="#fc9480"/>
<circle cx="76.7" cy="136.7" r="8.1" fill="#c8d8c0"/>
<circle cx="46.3" cy="171.7" r="8.1" fill="#c8d8c0"/>
<circle cx="33.3" cy="173.3" r="8.1" fill="#c4d8bc"/>
<circle cx="139.0" cy="156.7" r="8.1" fill="#90d084"/>
<circle cx="167.7" cy="172.7" r="8.1" fill="#7ccc70"/>
<circle cx="176.7" cy="76.3" r="8.1" fill="#bcd8b4"/>
<circle cx="202.7" cy="81.0" r="8.1" fill="#f0b8a4"/>
<circle cx="214.3" cy="72.7" r="8.1" fill="#f46450"/>
<circle cx="217.7" cy="113.3" r="8.1" fill="#fc9c8c"/>
<circle cx="258.3" cy="101.7" r="8.1" fill="#f8b8a4"/>
<circle cx="195.7" cy="148.3" r="8.1" fill="#e8b8a8"/>
<circle cx="203.3" cy="169.0" r="8.1" fill="#f87c68"/>
<circle cx="209.0" cy="183.3" r="8.1" fill="#b4d4ac"/>
<circle cx="207.0" cy="200.3" r="8.1" fill="#fc9480"/>
<circle cx="283.3" cy="162.3" r="8.1" fill="#fc8c78"/>
<circle cx="367.3" cy="47.7" r="8.1" fill="#ccd8c4"/>
<circle cx="370.7" cy="85.7" r="8.1" fill="#88d07c"/>
<circle cx="426.7" cy="60.7" r="8.1" fill="#ccd4c0"/>
<circle cx="429.3" cy="79.3" r="8.1" fill="#fca090"/>
<circle cx="342.3" cy="135.7" r="8.1" fill="#58a850"/>
<circle cx="428.3" cy="152.3" r="8.1" fill="#d0d4bc"/>
<circle cx="436.7" cy="168.7" r="8.1" fill="#fca898"/>
<circle cx="315.0" cy="194.3" r="8.1" fill="#fca898"/>
<circle cx="496.2" cy="69.5" r="8.1" fill="#ecc4b0"/>
<circle cx="463.8" cy="108.8" r="8.1" fill="#a4d898"/>
<circle cx="480.8" cy="115.5" r="8.1" fill="#d8d4c0"/>
<circle cx="472.0" cy="137.5" r="8.1" fill="#ecc4b0"/>
<circle cx="494.2" cy="141.2" r="8.1" fill="#88d47c"/>
<circle cx="512.5" cy="145.0" r="8.1" fill="#78c86c"/>
<circle cx="513.2" cy="121.8" r="8.1" fill="#90d884"/>
<circle cx="535.8" cy="122.5" r="8.1" fill="#fc9484"/>
<circle cx="561.8" cy="123.8" r="8.1" fill="#98d88c"/>
<circle cx="592.0" cy="119.5" r="8.1" fill="#3c9048"/>
<circle cx="558.8" cy="157.5" r="8.1" fill="#fc9484"/>
<circle cx="552.0" cy="138.5" r="8.1" fill="#fc9c8c"/>
<circle cx="568.2" cy="146.8" r="8.1" fill="#dcd0bc"/>
<circle cx="554.2" cy="146.8" r="8.1" fill="#88d47c"/>
<circle cx="557.5" cy="136.2" r="8.1" fill="#ecc4b0"/>
<circle cx="536.2" cy="160.0" r="8.1" fill="#ecc4b0"/>
<circle cx="546.2" cy="177.0" r="8.1" fill="#fc9080"/>
<circle cx="546.2" cy="168.0" r="8.1" fill="#dcd0bc"/>
<circle cx="561.2" cy="170.0" r="8.1" fill="#88d47c"/>
<circle cx="508.0" cy="191.2" r="8.1" fill="#98d88c"/>
<circle cx="498.0" cy="170.0" r="8.1" fill="#ec4c40"/>
<circle cx="519.5" cy="172.0" r="8.1" fill="#fca090"/>
<circle cx="508.8" cy="180.0" r="8.1" fill="#f87c64"/>
<circle cx="477.0" cy="191.2" r="8.1" fill="#f4b8a8"/>
<circle cx="477.5" cy="180.5" r="8.1" fill="#c4d8bc"/>
<circle cx="525.8" cy="193.0" r="8.1" fill="#ecc8b4"/>
<circle cx="444.5" cy="193.8" r="8.1" fill="#c8d4bc"/>
<circle cx="540.0" cy="205.0" r="8.1" fill="#78c86c"/>
<circle cx="563.8" cy="200.0" r="8.1" fill="#ecc4b0"/>
<circle cx="565.0" cy="188.8" r="8.1" fill="#b8dcb0"/>
<circle cx="585.0" cy="179.5" r="8.1" fill="#78c86c"/>
<circle cx="580.0" cy="191.2" r="8.1" fill="#c0dcb8"/>
<circle cx="593.8" cy="189.5" r="8.1" fill="#80d074"/>
<circle cx="617.0" cy="157.0" r="8.1" fill="#2c8444"/>
<circle cx="588.8" cy="176.2" r="8.1" fill="#fca090"/>
<circle cx="588.0" cy="155.5" r="8.1" fill="#6cbc64"/>
<circle cx="612.5" cy="163.8" r="8.1" fill="#fca494"/>
<circle cx="598.8" cy="162.5" r="8.1" fill="#f0c0b0"/>
<circle cx="615.2" cy="148.8" r="8.1" fill="#f26048"/>
<circle cx="622.5" cy="146.8" r="8.1" fill="#88d47c"/>
<circle cx="625.0" cy="161.2" r="8.1" fill="#fc907c"/>
<circle cx="632.0" cy="167.5" r="8.1" fill="#dcd0bc"/>
<circle cx="626.2" cy="193.8" r="8.1" fill="#fc8c78"/>
<circle cx="629.2" cy="184.2" r="8.1" fill="#78c86c"/>
<circle cx="615.5" cy="178.5" r="8.1" fill="#c8dcc0"/>
<circle cx="606.2" cy="177.0" r="8.1" fill="#88d47c"/>
<circle cx="623.8" cy="176.8" r="8.1" fill="#d8d0bc"/>
<circle cx="657.0" cy="191.0" r="8.1" fill="#f0c0b0"/>
<circle cx="642.5" cy="191.2" r="8.1" fill="#2c7c3c"/>
<circle cx="671.5" cy="197.2" r="8.1" fill="#ecd0bc"/>
<circle cx="660.5" cy="199.0" r="8.1" fill="#ecc4b4"/>
<circle cx="642.5" cy="205.0" r="8.1" fill="#fc9c88"/>
<circle cx="619.5" cy="204.5" r="8.1" fill="#ecc8b4"/>
<circle cx="605.0" cy="202.5" r="8.1" fill="#c0dcb8"/>
<circle cx="852.5" cy="110.0" r="8.1" fill="#bcdcb4"/>
<circle cx="826.2" cy="136.8" r="8.1" fill="#e4ccb8"/>
<circle cx="820.8" cy="150.8" r="8.1" fill="#dcd0bc"/>
<circle cx="783.0" cy="128.8" r="8.1" fill="#fcac9c"/>
<circle cx="740.0" cy="140.0" r="8.1" fill="#68b45c"/>
<circle cx="753.0" cy="152.0" r="8.1" fill="#c0dcb8"/>
<circle cx="737.0" cy="157.0" r="8.1" fill="#78c86c"/>
<circle cx="720.5" cy="160.0" r="8.1" fill="#88d47c"/>
<circle cx="700.0" cy="163.2" r="8.1" fill="#88d47c"/>
<circle cx="678.8" cy="178.0" r="8.1" fill="#88d47c"/>
<circle cx="776.2" cy="152.5" r="8.1" fill="#f0c0b0"/>
<circle cx="778.8" cy="175.0" r="8.1" fill="#fc9484"/>
<circle cx="774.2" cy="164.2" r="8.1" fill="#7ccc70"/>
<circle cx="803.2" cy="162.5" r="8.1" fill="#fc9078"/>
<circle cx="812.0" cy="170.5" r="8.1" fill="#fca090"/>
<circle cx="801.2" cy="175.0" r="8.1" fill="#c0dcb8"/>
<circle cx="788.8" cy="174.2" r="8.1" fill="#b4dcac"/>
<circle cx="732.5" cy="171.2" r="8.1" fill="#78c86c"/>
<circle cx="728.8" cy="178.8" r="8.1" fill="#88d47c"/>
<circle cx="738.8" cy="178.2" r="8.1" fill="#68b860"/>
<circle cx="772.5" cy="190.0" r="8.1" fill="#78c86c"/>
<circle cx="766.2" cy="184.5" r="8.1" fill="#74c468"/>
<circle cx="826.2" cy="185.5" r="8.1" fill="#1c6c38"/>
<circle cx="810.8" cy="188.8" r="8.1" fill="#b4dcac"/>
<circle cx="788.8" cy="197.5" r="8.1" fill="#88d47c"/>
<circle cx="799.2" cy="191.2" r="8.1" fill="#88d47c"/>
<circle cx="790.0" cy="190.0" r="8.1" fill="#c0dcb8"/>
<circle cx="778.8" cy="195.0" r="8.1" fill="#88d47c"/>
<circle cx="724.5" cy="195.0" r="8.1" fill="#88d47c"/>
<circle cx="742.0" cy="196.2" r="8.1" fill="#8cd480"/>
<circle cx="713.0" cy="201.2" r="8.1" fill="#449848"/>
<circle cx="763.0" cy="219.0" r="8.1" fill="#e0d0bc"/>
<circle cx="761.2" cy="211.2" r="8.1" fill="#c0dcb8"/>
<circle cx="749.2" cy="205.8" r="8.1" fill="#78c86c"/>
<circle cx="698.0" cy="211.8" r="8.1" fill="#f8b0a0"/>
<circle cx="705.5" cy="211.8" r="8.1" fill="#b4dcac"/>
<circle cx="723.8" cy="213.8" r="8.1" fill="#c0dcb8"/>
<circle cx="733.8" cy="210.0" r="8.1" fill="#70bc64"/>
<circle cx="723.8" cy="222.5" r="8.1" fill="#78c86c"/>
<circle cx="715.0" cy="220.8" r="8.1" fill="#88d47c"/>
<circle cx="737.0" cy="220.8" r="8.1" fill="#7ccc70"/>
<circle cx="751.2" cy="221.8" r="8.1" fill="#b8dcb0"/>
<circle cx="759.5" cy="230.0" r="8.1" fill="#2c8444"/>
<circle cx="702.0" cy="234.2" r="8.1" fill="#88d47c"/>
<circle cx="685.0" cy="230.8" r="8.1" fill="#7ccc70"/>
<circle cx="710.0" cy="230.8" r="8.1" fill="#ecc4b0"/>
<circle cx="730.0" cy="235.0" r="8.1" fill="#fc9484"/>
<circle cx="747.5" cy="237.0" r="8.1" fill="#fca494"/>
<circle cx="717.0" cy="242.0" r="8.1" fill="#f4684c"/>
<circle cx="730.5" cy="249.5" r="8.1" fill="#f87058"/>
<circle cx="692.0" cy="255.0" r="8.1" fill="#fcac9c"/>
<circle cx="696.2" cy="246.8" r="8.1" fill="#74c468"/>
<circle cx="744.8" cy="252.5" r="8.1" fill="#88d47c"/>
<circle cx="57.3" cy="206.7" r="8.1" fill="#6cb864"/>
<circle cx="92.7" cy="209.3" r="8.1" fill="#6cb864"/>
<circle cx="63.3" cy="235.0" r="8.1" fill="#5cac54"/>
<circle cx="64.0" cy="225.0" r="8.1" fill="#a4d898"/>
<circle cx="91.7" cy="235.7" r="8.1" fill="#88d07c"/>
<circle cx="44.0" cy="249.0" r="8.1" fill="#78c46c"/>
<circle cx="68.3" cy="255.0" r="8.1" fill="#74c068"/>
<circle cx="70.0" cy="244.3" r="8.1" fill="#80cc74"/>
<circle cx="53.3" cy="248.3" r="8.1" fill="#68b45c"/>
<circle cx="74.0" cy="264.0" r="8.1" fill="#70bc64"/>
<circle cx="58.7" cy="261.7" r="8.1" fill="#90d484"/>
<circle cx="56.0" cy="275.7" r="8.1" fill="#74c068"/>
<circle cx="66.7" cy="279.0" r="8.1" fill="#7cc870"/>
<circle cx="78.3" cy="272.7" r="8.1" fill="#1c6c38"/>
<circle cx="64.3" cy="288.3" r="8.1" fill="#88d07c"/>
<circle cx="105.3" cy="290.0" r="8.1" fill="#8cd480"/>
<circle cx="90.3" cy="292.7" r="8.1" fill="#84d078"/>
<circle cx="92.7" cy="280.7" r="8.1" fill="#6cb864"/>
<circle cx="106.7" cy="307.3" r="8.1" fill="#70bc64"/>
<circle cx="86.0" cy="317.7" r="8.1" fill="#8cd480"/>
<circle cx="82.3" cy="306.7" r="8.1" fill="#fca494"/>
<circle cx="100.0" cy="322.7" r="8.1" fill="#c4dcbc"/>
<circle cx="112.0" cy="329.3" r="8.1" fill="#8cd480"/>
<circle cx="145.7" cy="319.3" r="8.1" fill="#84d078"/>
<circle cx="136.0" cy="348.3" r="8.1" fill="#8cd480"/>
<circle cx="156.0" cy="347.7" r="8.1" fill="#8cd480"/>
<circle cx="157.7" cy="296.3" r="8.1" fill="#70bc64"/>
<circle cx="176.7" cy="302.0" r="8.1" fill="#f8806c"/>
<circle cx="184.0" cy="270.7" r="8.1" fill="#68b45c"/>
<circle cx="177.0" cy="353.0" r="8.1" fill="#ec4840"/>
<circle cx="205.3" cy="301.0" r="8.1" fill="#f8b0a0"/>
<circle cx="199.3" cy="317.7" r="8.1" fill="#fca898"/>
<circle cx="203.7" cy="343.3" r="8.1" fill="#e8c4b0"/>
<circle cx="209.3" cy="366.7" r="8.1" fill="#fca494"/>
<circle cx="239.0" cy="368.3" r="8.1" fill="#e03840"/>
<circle cx="192.3" cy="211.0" r="8.1" fill="#8cd480"/>
<circle cx="210.7" cy="221.7" r="8.1" fill="#78c46c"/>
<circle cx="256.7" cy="240.0" r="8.1" fill="#acd8a0"/>
<circle cx="260.3" cy="285.3" r="8.1" fill="#88d47c"/>
<circle cx="295.3" cy="303.0" r="8.1" fill="#78c86c"/>
<circle cx="284.3" cy="308.3" r="8.1" fill="#fc9c8c"/>
<circle cx="282.7" cy="359.0" r="8.1" fill="#c0dcb8"/>
<circle cx="303.3" cy="208.3" r="8.1" fill="#88d47c"/>
<circle cx="316.7" cy="211.0" r="8.1" fill="#78c46c"/>
<circle cx="304.0" cy="220.0" r="8.1" fill="#fc9c8c"/>
<circle cx="311.7" cy="232.3" r="8.1" fill="#dcd4c0"/>
<circle cx="314.0" cy="242.3" r="8.1" fill="#ecc4b0"/>
<circle cx="316.0" cy="255.7" r="8.1" fill="#fca898"/>
<circle cx="408.3" cy="202.7" r="8.1" fill="#c0dcb8"/>
<circle cx="430.0" cy="205.7" r="8.1" fill="#8cd480"/>
<circle cx="461.7" cy="224.0" r="8.1" fill="#78c46c"/>
<circle cx="445.0" cy="238.3" r="8.1" fill="#90d484"/>
<circle cx="435.7" cy="235.0" r="8.1" fill="#84d078"/>
<circle cx="453.3" cy="240.7" r="8.1" fill="#58a850"/>
<circle cx="464.0" cy="240.7" r="8.1" fill="#84d078"/>
<circle cx="504.0" cy="245.0" r="8.1" fill="#70bc64"/>
<circle cx="497.3" cy="240.0" r="8.1" fill="#449848"/>
<circle cx="527.3" cy="243.3" r="8.1" fill="#c0dcb8"/>
<circle cx="421.0" cy="265.3" r="8.1" fill="#88d47c"/>
<circle cx="464.3" cy="274.7" r="8.1" fill="#7cc870"/>
<circle cx="485.3" cy="269.7" r="8.1" fill="#78c86c"/>
<circle cx="416.7" cy="287.3" r="8.1" fill="#fc9c8c"/>
<circle cx="441.3" cy="291.0" r="8.1" fill="#a0d894"/>
<circle cx="472.7" cy="292.7" r="8.1" fill="#64b45c"/>
<circle cx="417.3" cy="305.0" r="8.1" fill="#fcb0a0"/>
<circle cx="464.7" cy="309.7" r="8.1" fill="#e8ccb8"/>
<circle cx="353.0" cy="309.3" r="8.1" fill="#70bc64"/>
<circle cx="406.7" cy="334.3" r="8.1" fill="#90d884"/>
<circle cx="407.3" cy="322.3" r="8.1" fill="#fc9c8c"/>
<circle cx="433.3" cy="336.7" r="8.1" fill="#68b45c"/>
<circle cx="498.7" cy="318.3" r="8.1" fill="#98d88c"/>
<circle cx="486.0" cy="320.7" r="8.1" fill="#78c86c"/>
<circle cx="522.3" cy="299.7" r="8.1" fill="#78c86c"/>
<circle cx="535.3" cy="312.7" r="8.1" fill="#ecc4b0"/>
<circle cx="549.3" cy="301.0" r="8.1" fill="#d8d4c0"/>
<circle cx="536.7" cy="271.0" r="8.1" fill="#78c86c"/>
<circle cx="550.7" cy="273.3" r="8.1" fill="#88d47c"/>
<circle cx="537.3" cy="223.3" r="8.1" fill="#fc8c74"/>
<circle cx="560.0" cy="213.7" r="8.1" fill="#84d078"/>
<circle cx="549.3" cy="212.7" r="8.1" fill="#fca494"/>
<circle cx="547.3" cy="224.0" r="8.1" fill="#fca090"/>
<circle cx="601.2" cy="216.8" r="8.1" fill="#84d078"/>
<circle cx="578.8" cy="211.8" r="8.1" fill="#f4b8a8"/>
<circle cx="590.0" cy="211.8" r="8.1" fill="#fc9484"/>
<circle cx="661.2" cy="210.0" r="8.1" fill="#c4dcbc"/>
<circle cx="670.0" cy="213.8" r="8.1" fill="#c8dcc0"/>
<circle cx="682.0" cy="212.5" r="8.1" fill="#a8d8a0"/>
<circle cx="667.5" cy="222.5" r="8.1" fill="#c8dcc0"/>
<circle cx="627.5" cy="222.5" r="8.1" fill="#f87c60"/>
<circle cx="617.5" cy="223.0" r="8.1" fill="#90d884"/>
<circle cx="638.2" cy="220.8" r="8.1" fill="#b4dcac"/>
<circle cx="588.8" cy="225.0" r="8.1" fill="#fca494"/>
<circle cx="572.0" cy="229.5" r="8.1" fill="#74c468"/>
<circle cx="581.2" cy="235.0" r="8.1" fill="#b0183c"/>
<circle cx="594.5" cy="235.0" r="8.1" fill="#fca090"/>
<circle cx="614.2" cy="237.0" r="8.1" fill="#a8d89c"/>
<circle cx="658.0" cy="236.2" r="8.1" fill="#ecc4b0"/>
<circle cx="597.5" cy="250.8" r="8.1" fill="#ecc8b4"/>
<circle cx="614.2" cy="255.5" r="8.1" fill="#78c86c"/>
<circle cx="576.2" cy="263.8" r="8.1" fill="#88d47c"/>
<circle cx="568.0" cy="257.5" r="8.1" fill="#fca898"/>
<circle cx="593.0" cy="263.0" r="8.1" fill="#c4dcbc"/>
<circle cx="585.0" cy="276.2" r="8.1" fill="#78c86c"/>
<circle cx="566.2" cy="281.2" r="8.1" fill="#88d47c"/>
<circle cx="580.0" cy="293.8" r="8.1" fill="#98d88c"/>
<circle cx="645.0" cy="251.2" r="8.1" fill="#8cd480"/>
<circle cx="656.8" cy="253.0" r="8.1" fill="#e8ccb8"/>
<circle cx="663.2" cy="260.0" r="8.1" fill="#88d47c"/>
<circle cx="645.5" cy="282.5" r="8.1" fill="#88d47c"/>
<circle cx="646.2" cy="290.0" r="8.1" fill="#b4dcac"/>
<circle cx="630.8" cy="291.8" r="8.1" fill="#fca494"/>
<circle cx="618.0" cy="293.8" r="8.1" fill="#7ccc70"/>
<circle cx="640.0" cy="301.2" r="8.1" fill="#74c468"/>
<circle cx="658.2" cy="297.5" r="8.1" fill="#fca090"/>
<circle cx="681.2" cy="270.0" r="8.1" fill="#78c86c"/>
<circle cx="673.0" cy="274.2" r="8.1" fill="#f87058"/>
<circle cx="692.0" cy="268.8" r="8.1" fill="#74c468"/>
<circle cx="702.5" cy="260.0" r="8.1" fill="#74c468"/>
<circle cx="718.0" cy="266.8" r="8.1" fill="#ecc4b0"/>
<circle cx="733.8" cy="282.5" r="8.1" fill="#ecc4b0"/>
<circle cx="673.8" cy="293.8" r="8.1" fill="#84d078"/>
<circle cx="681.2" cy="293.8" r="8.1" fill="#98d88c"/>
<circle cx="703.8" cy="298.8" r="8.1" fill="#78c86c"/>
<circle cx="697.5" cy="294.5" r="8.1" fill="#fcac9c"/>
<circle cx="690.0" cy="293.8" r="8.1" fill="#fca494"/>
<circle cx="713.8" cy="293.8" r="8.1" fill="#fca494"/>
<circle cx="720.0" cy="301.2" r="8.1" fill="#74c468"/>
<circle cx="710.8" cy="306.2" r="8.1" fill="#fca090"/>
<circle cx="687.5" cy="307.5" r="8.1" fill="#78c86c"/>
<circle cx="667.5" cy="308.0" r="8.1" fill="#88d47c"/>
<circle cx="695.0" cy="312.5" r="8.1" fill="#fc9484"/>
<circle cx="712.5" cy="326.2" r="8.1" fill="#5cac54"/>
<circle cx="719.2" cy="318.8" r="8.1" fill="#fca090"/>
<circle cx="603.8" cy="325.0" r="8.1" fill="#fca494"/>
<circle cx="608.8" cy="318.8" r="8.1" fill="#f87058"/>
<circle cx="612.5" cy="310.0" r="8.1" fill="#a0d894"/>
<circle cx="600.0" cy="311.2" r="8.1" fill="#fca090"/>
<circle cx="565.0" cy="316.2" r="8.1" fill="#fca494"/>
<circle cx="582.5" cy="317.0" r="8.1" fill="#78c86c"/>
<circle cx="574.2" cy="321.2" r="8.1" fill="#7ccc70"/>
<circle cx="653.8" cy="316.2" r="8.1" fill="#88d47c"/>
<circle cx="643.8" cy="318.0" r="8.1" fill="#78c86c"/>
<circle cx="624.2" cy="324.5" r="8.1" fill="#88d47c"/>
<circle cx="633.8" cy="331.2" r="8.1" fill="#5cac54"/>
<circle cx="590.0" cy="328.8" r="8.1" fill="#fc9484"/>
<circle cx="594.2" cy="335.0" r="8.1" fill="#f4b8a8"/>
<circle cx="615.5" cy="335.8" r="8.1" fill="#b8dcb0"/>
<circle cx="675.0" cy="332.5" r="8.1" fill="#98d88c"/>
<circle cx="661.2" cy="330.0" r="8.1" fill="#b4dcac"/>
<circle cx="683.0" cy="328.0" r="8.1" fill="#b8dcb0"/>
<circle cx="696.8" cy="332.0" r="8.1" fill="#68b860"/>
<circle cx="579.2" cy="340.5" r="8.1" fill="#88d47c"/>
<circle cx="650.5" cy="341.8" r="8.1" fill="#88d47c"/>
<circle cx="567.5" cy="348.2" r="8.1" fill="#ecc4b0"/>
<circle cx="682.5" cy="348.8" r="8.1" fill="#e4ccb8"/>
<circle cx="626.2" cy="360.0" r="8.1" fill="#fc9484"/>
<circle cx="625.0" cy="351.2" r="8.1" fill="#88d47c"/>
<circle cx="610.0" cy="358.2" r="8.1" fill="#ecc4b0"/>
<circle cx="601.2" cy="356.2" r="8.1" fill="#78c86c"/>
<circle cx="585.5" cy="359.5" r="8.1" fill="#ecc4b0"/>
<circle cx="657.5" cy="361.2" r="8.1" fill="#88d47c"/>
<circle cx="668.8" cy="359.2" r="8.1" fill="#5cac54"/>
<circle cx="655.8" cy="368.2" r="8.1" fill="#f87058"/>
<circle cx="658.8" cy="377.5" r="8.1" fill="#5cac54"/>
<circle cx="620.8" cy="374.2" r="8.1" fill="#f87c68"/>
<circle cx="602.5" cy="376.8" r="8.1" fill="#78c86c"/>
<circle cx="631.2" cy="385.0" r="8.1" fill="#fca090"/>
<circle cx="558.0" cy="389.0" r="8.1" fill="#f87050"/>
<circle cx="576.2" cy="390.0" r="8.1" fill="#88d47c"/>
<circle cx="565.5" cy="387.5" r="8.1" fill="#4c9c4c"/>
<circle cx="597.5" cy="393.0" r="8.1" fill="#b4dcac"/>
<circle cx="586.2" cy="390.0" r="8.1" fill="#88d47c"/>
<circle cx="617.5" cy="393.8" r="8.1" fill="#e0ccb8"/>
<circle cx="652.5" cy="395.0" r="8.1" fill="#f0c0b0"/>
<circle cx="359.2" cy="342.5" r="8.1" fill="#7ccc70"/>
<circle cx="385.8" cy="357.0" r="8.1" fill="#78c86c"/>
<circle cx="345.5" cy="368.8" r="8.1" fill="#98d88c"/>
<circle cx="355.0" cy="364.5" r="8.1" fill="#88d47c"/>
<circle cx="373.8" cy="376.8" r="8.1" fill="#7ccc70"/>
<circle cx="304.5" cy="378.0" r="8.1" fill="#88d47c"/>
<circle cx="427.5" cy="353.2" r="8.1" fill="#7ccc70"/>
<circle cx="453.0" cy="358.8" r="8.1" fill="#64b45c"/>
<circle cx="462.0" cy="359.5" r="8.1" fill="#7ccc70"/>
<circle cx="478.2" cy="358.2" r="8.1" fill="#a0d894"/>
<circle cx="469.5" cy="342.5" r="8.1" fill="#bcdcb4"/>
<circle cx="427.5" cy="375.8" r="8.1" fill="#74c468"/>
<circle cx="415.0" cy="379.2" r="8.1" fill="#bcdcb4"/>
<circle cx="437.0" cy="385.8" r="8.1" fill="#68b860"/>
<circle cx="418.8" cy="395.0" r="8.1" fill="#78c86c"/>
<circle cx="467.0" cy="393.8" r="8.1" fill="#a0d894"/>
<circle cx="452.0" cy="401.8" r="8.1" fill="#88d47c"/>
<circle cx="485.0" cy="399.5" r="8.1" fill="#74c468"/>
<circle cx="404.2" cy="410.0" r="8.1" fill="#a0d894"/>
<circle cx="426.2" cy="420.5" r="8.1" fill="#98d88c"/>
<circle cx="422.5" cy="434.2" r="8.1" fill="#78c86c"/>
<circle cx="379.5" cy="422.5" r="8.1" fill="#68b860"/>
<circle cx="394.5" cy="438.0" r="8.1" fill="#74c468"/>
<circle cx="410.0" cy="460.0" r="8.1" fill="#90d484"/>
<circle cx="421.2" cy="464.2" r="8.1" fill="#fc9484"/>
<circle cx="502.5" cy="355.8" r="8.1" fill="#74c468"/>
<circle cx="529.5" cy="360.0" r="8.1" fill="#fca090"/>
<circle cx="494.5" cy="377.5" r="8.1" fill="#c0dcb8"/>
<circle cx="543.2" cy="379.5" r="8.1" fill="#c0dcb8"/>
<circle cx="535.0" cy="391.2" r="8.1" fill="#78c86c"/>
<circle cx="527.0" cy="389.5" r="8.1" fill="#ecc4b0"/>
<circle cx="515.0" cy="390.8" r="8.1" fill="#b8dcb0"/>
<circle cx="547.5" cy="390.8" r="8.1" fill="#b8dcb0"/>
<circle cx="500.5" cy="400.8" r="8.1" fill="#88d47c"/>
<circle cx="521.8" cy="408.0" r="8.1" fill="#fca494"/>
<circle cx="538.0" cy="403.2" r="8.1" fill="#fc9484"/>
<circle cx="675.0" cy="438.0" r="8.1" fill="#f87058"/>
<circle cx="653.8" cy="411.2" r="8.1" fill="#68c05c"/>
<circle cx="643.0" cy="404.5" r="8.1" fill="#7ccc70"/>
<circle cx="662.5" cy="413.8" r="8.1" fill="#88d47c"/>
<circle cx="643.0" cy="419.5" r="8.1" fill="#c4dcbc"/>
<circle cx="661.2" cy="425.0" r="8.1" fill="#98d88c"/>
<circle cx="671.2" cy="428.0" r="8.1" fill="#c0dcb8"/>
<circle cx="642.5" cy="431.8" r="8.1" fill="#e4ccb8"/>
<circle cx="655.0" cy="433.2" r="8.1" fill="#88d47c"/>
<circle cx="661.2" cy="445.0" r="8.1" fill="#fca494"/>
<circle cx="646.2" cy="445.0" r="8.1" fill="#7ccc70"/>
<circle cx="674.5" cy="445.8" r="8.1" fill="#e4ccb8"/>
<circle cx="661.2" cy="464.2" r="8.1" fill="#f87c68"/>
<circle cx="652.0" cy="457.0" r="8.1" fill="#fc9484"/>
<circle cx="673.8" cy="465.5" r="8.1" fill="#fca494"/>
<circle cx="142.3" cy="497.8" r="8.1" fill="#f08428"/>
<circle cx="130.2" cy="517.8" r="8.1" fill="#ec7820"/>
<circle cx="302.0" cy="509.3" r="8.1" fill="#d8601c"/>
<circle cx="285.9" cy="502.6" r="8.1" fill="#e87020"/>
</g>
</svg>
<div class="legend-title">% Growth</div>
<div class="lbl" style="left:545px">-8.1%</div>
<div class="bar"></div><div class="tick"></div>
<div class="lbl" style="left:795px">6.0%</div>
</body></html>
